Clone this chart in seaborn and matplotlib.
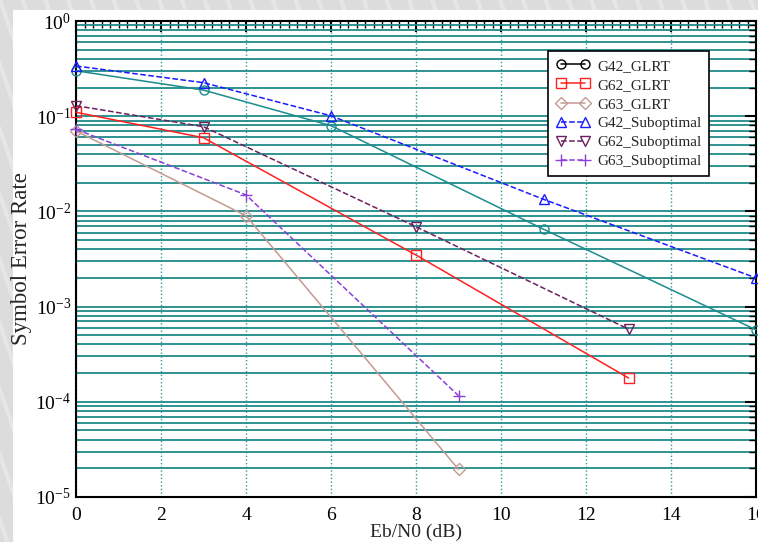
#!/usr/bin/env python3

import pandas as pd
import matplotlib
matplotlib.use("Agg")
import matplotlib.pyplot as plt
from matplotlib.lines import Line2D
from matplotlib.patches import Rectangle
from matplotlib.ticker import LogLocator, LogFormatterMathtext, MultipleLocator, NullFormatter
import seaborn as sns

# ======================================================
# DATA
# ======================================================
X_G42 = [0, 3, 6, 11, 16]
X_G62 = [0, 3, 8, 13]
X_G63 = [0, 4, 9]

SER_G42_GLRT = [0.30, 0.188, 0.0795, 0.0065, 5.7e-4]
SER_G62_GLRT = [0.11, 0.0594, 0.00348, 1.78e-4]
SER_G63_GLRT = [0.070, 0.009, 1.95e-5]
SER_G42_SUB = [0.337, 0.225, 0.101, 0.0134, 0.0020]
SER_G62_SUB = [0.129, 0.0776, 0.0069, 5.8e-4]
SER_G63_SUB = [0.0728, 0.0149, 1.16e-4]

X_TICKS = [0, 2, 4, 6, 8, 10, 12, 14, 16]

# name: (x, y, line colour, legend colour, marker, linestyle)
SERIES = {
    "G42_GLRT": (X_G42, SER_G42_GLRT, "#1a8c8c", "black", "o", "-"),
    "G62_GLRT": (X_G62, SER_G62_GLRT, "#ff2020", "#ff2020", "s", "-"),
    "G63_GLRT": (X_G63, SER_G63_GLRT, "#c49a92", "#c49a92", "D", "-"),
    "G42_Suboptimal": (X_G42, SER_G42_SUB, "#1a1aff", "#1a1aff", "^", "--"),
    "G62_Suboptimal": (X_G62, SER_G62_SUB, "#6e1f5e", "#6e1f5e", "v", "--"),
    "G63_Suboptimal": (X_G63, SER_G63_SUB, "#8a3fd6", "#8a3fd6", "+", "--"),
}

GRID_TEAL = "#1f8a8a"

# ======================================================
# PLOT
# ======================================================
sns.set_style("white")
plt.rcParams["font.family"] = ["Liberation Serif", "DejaVu Serif"]
plt.rcParams["mathtext.fontset"] = "custom"
plt.rcParams["mathtext.rm"] = "Liberation Serif"
plt.rcParams["mathtext.it"] = "Liberation Serif:italic"

fig = plt.figure(figsize=(7.58, 5.42), dpi=100, facecolor="#dcdcdc")

# striped grey margin + white sheet behind the plot
for k in range(-30, 40):
    x0 = k * 0.03
    fig.add_artist(Line2D([x0, x0 + 0.25], [1.0, 0.0], transform=fig.transFigure,
                          color="#e6e6e6", lw=3, zorder=-3))
fig.add_artist(Rectangle((13 / 758, 0), 1, 1 - 10 / 542, transform=fig.transFigure,
                         facecolor="white", edgecolor="none", zorder=-2))

ax = fig.add_axes([76 / 758, 45 / 542, 680 / 758, 476 / 542])
ax.set_facecolor("white")

for name, (xs, ys, color, _, marker, ls) in SERIES.items():
    df = pd.DataFrame({"x": xs, "y": ys})
    sns.lineplot(data=df, x="x", y="y", ax=ax, color=color, linestyle=ls,
                 marker=marker, markersize=6.5 if marker != "+" else 9,
                 markerfacecolor="none", markeredgecolor=color,
                 markeredgewidth=1.0, lw=1.1, zorder=3, clip_on=False)

ax.set_yscale("log")
ax.set_xlim(0, 16)
ax.set_ylim(1e-5, 1)

ax.xaxis.set_major_locator(MultipleLocator(2))
ax.xaxis.set_minor_locator(MultipleLocator(0.2))
ax.set_xticks(X_TICKS)
ax.yaxis.set_major_locator(LogLocator(base=10, numticks=10))
ax.yaxis.set_minor_locator(LogLocator(base=10, subs=range(2, 10), numticks=20))
ax.yaxis.set_major_formatter(LogFormatterMathtext())
ax.yaxis.set_minor_formatter(NullFormatter())

ax.yaxis.grid(True, which="both", color=GRID_TEAL, lw=1.3, ls="-", zorder=0)
ax.xaxis.grid(True, which="major", color="#2a9a9a", lw=1.0, ls=":", zorder=0)
ax.set_axisbelow(True)

ax.tick_params(which="both", direction="in", top=True, right=True, colors="black",
               labelsize=14)
ax.tick_params(axis="x", which="major", pad=7)
ax.tick_params(which="major", length=8, width=1.5)
ax.tick_params(which="minor", length=5, width=1.0)
for side in ax.spines.values():
    side.set_color("black")
    side.set_linewidth(1.5)

ax.set_xlabel("Eb/N0 (dB)", fontsize=14, labelpad=0)
ax.set_ylabel("Symbol Error Rate", fontsize=16.5, labelpad=2)

handles = []
for name, (xs, ys, color, leg_color, marker, ls) in SERIES.items():
    handles.append(Line2D([], [], color=leg_color, linestyle=ls, marker=marker,
                          markersize=6.5 if marker != "+" else 9,
                          markerfacecolor="none", markeredgecolor=leg_color, lw=1.1))
leg = ax.legend(handles, list(SERIES.keys()), loc="upper right",
                bbox_to_anchor=(0.931, 0.936), borderaxespad=0, numpoints=2,
                handlelength=2.2, fontsize=11, frameon=True, fancybox=False,
                framealpha=1, edgecolor="black", borderpad=0.5, labelspacing=0.35,
                handletextpad=0.5)
leg.get_frame().set_linewidth(1.2)

fig.savefig("out.png", dpi=100, facecolor=fig.get_facecolor())
